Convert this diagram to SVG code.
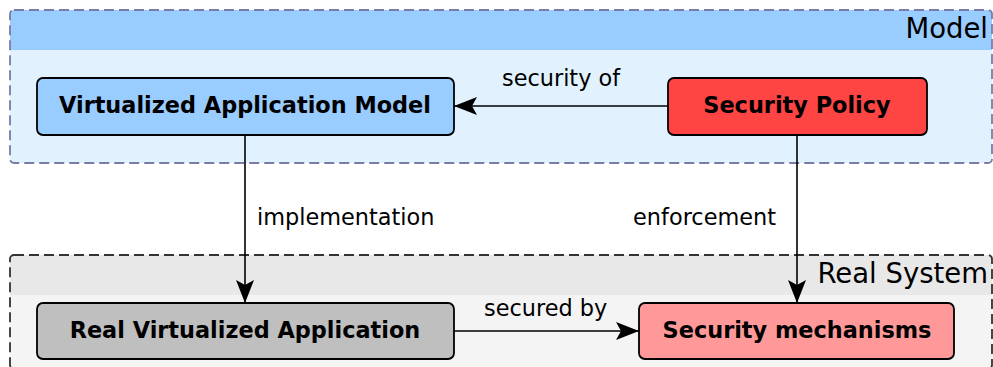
<svg xmlns="http://www.w3.org/2000/svg" width="993" height="367" viewBox="0 0 993 367">
<style>
.node rect{stroke:#000;stroke-width:1.8}
.ntext{font-family:"DejaVu Sans",sans-serif;font-weight:bold;font-size:22.4px;text-anchor:middle;fill:#000}
.lbl{font-family:"DejaVu Sans",sans-serif;font-size:22.4px;fill:#000}
.title{font-family:"DejaVu Sans",sans-serif;font-size:27.5px;text-anchor:end;fill:#000}
.conn{stroke:#000;stroke-width:1.6;fill:none}
</style>
<defs>
<marker id="ah" markerUnits="userSpaceOnUse" markerWidth="24" markerHeight="20" viewBox="0 0 24 20" refX="23" refY="10" orient="auto">
<path d="M23,10 L0,1 L5,10 L0,19 Z" fill="#000"/>
</marker>
</defs>
<g id="model">
<rect x="10" y="10" width="982" height="153" rx="4" fill="#e1f2fe"/>
<path d="M10,50 V14 Q10,10 14,10 H988 Q992,10 992,14 V50 Z" fill="#99ccff"/>
<rect x="10" y="10" width="982" height="153" rx="4" fill="none" stroke="#7b7ba8" stroke-width="1.8" stroke-dasharray="10,5"/>
<text class="title" x="988" y="38">Model</text>
</g>
<g id="realsystem">
<rect x="10" y="255" width="982" height="114" rx="4" fill="#f4f4f4"/>
<path d="M10,295 V259 Q10,255 14,255 H988 Q992,255 992,259 V295 Z" fill="#e8e8e8"/>
<rect x="10" y="255" width="982" height="114" rx="4" fill="none" stroke="#333" stroke-width="1.8" stroke-dasharray="10,5"/>
<text class="title" x="988" y="283">Real System</text>
</g>
<g id="connectors">
<line class="conn" x1="668" y1="106" x2="454" y2="106" marker-end="url(#ah)"/>
<line class="conn" x1="245" y1="135" x2="245" y2="303" marker-end="url(#ah)"/>
<line class="conn" x1="797" y1="135" x2="797" y2="303" marker-end="url(#ah)"/>
<line class="conn" x1="454" y1="331" x2="639" y2="331" marker-end="url(#ah)"/>
<text class="lbl" x="502" y="86">security of</text>
<text class="lbl" x="257" y="225">implementation</text>
<text class="lbl" x="776" y="225" text-anchor="end">enforcement</text>
<text class="lbl" x="484" y="316">secured by</text>
</g>
<g id="vam" class="node">
<rect x="37" y="78" width="417" height="57" rx="6" fill="#99ccff"/>
<text class="ntext" x="245" y="113">Virtualized Application Model</text>
</g>
<g id="policy" class="node">
<rect x="668" y="78" width="259" height="57" rx="6" fill="#ff4444"/>
<text class="ntext" x="797" y="113">Security Policy</text>
</g>
<g id="rva" class="node">
<rect x="37" y="303" width="417" height="56" rx="6" fill="#bfbfbf"/>
<text class="ntext" x="245" y="338">Real Virtualized Application</text>
</g>
<g id="mech" class="node">
<rect x="639" y="303" width="315" height="56" rx="6" fill="#ff9999"/>
<text class="ntext" x="797" y="338">Security mechanisms</text>
</g>
</svg>
